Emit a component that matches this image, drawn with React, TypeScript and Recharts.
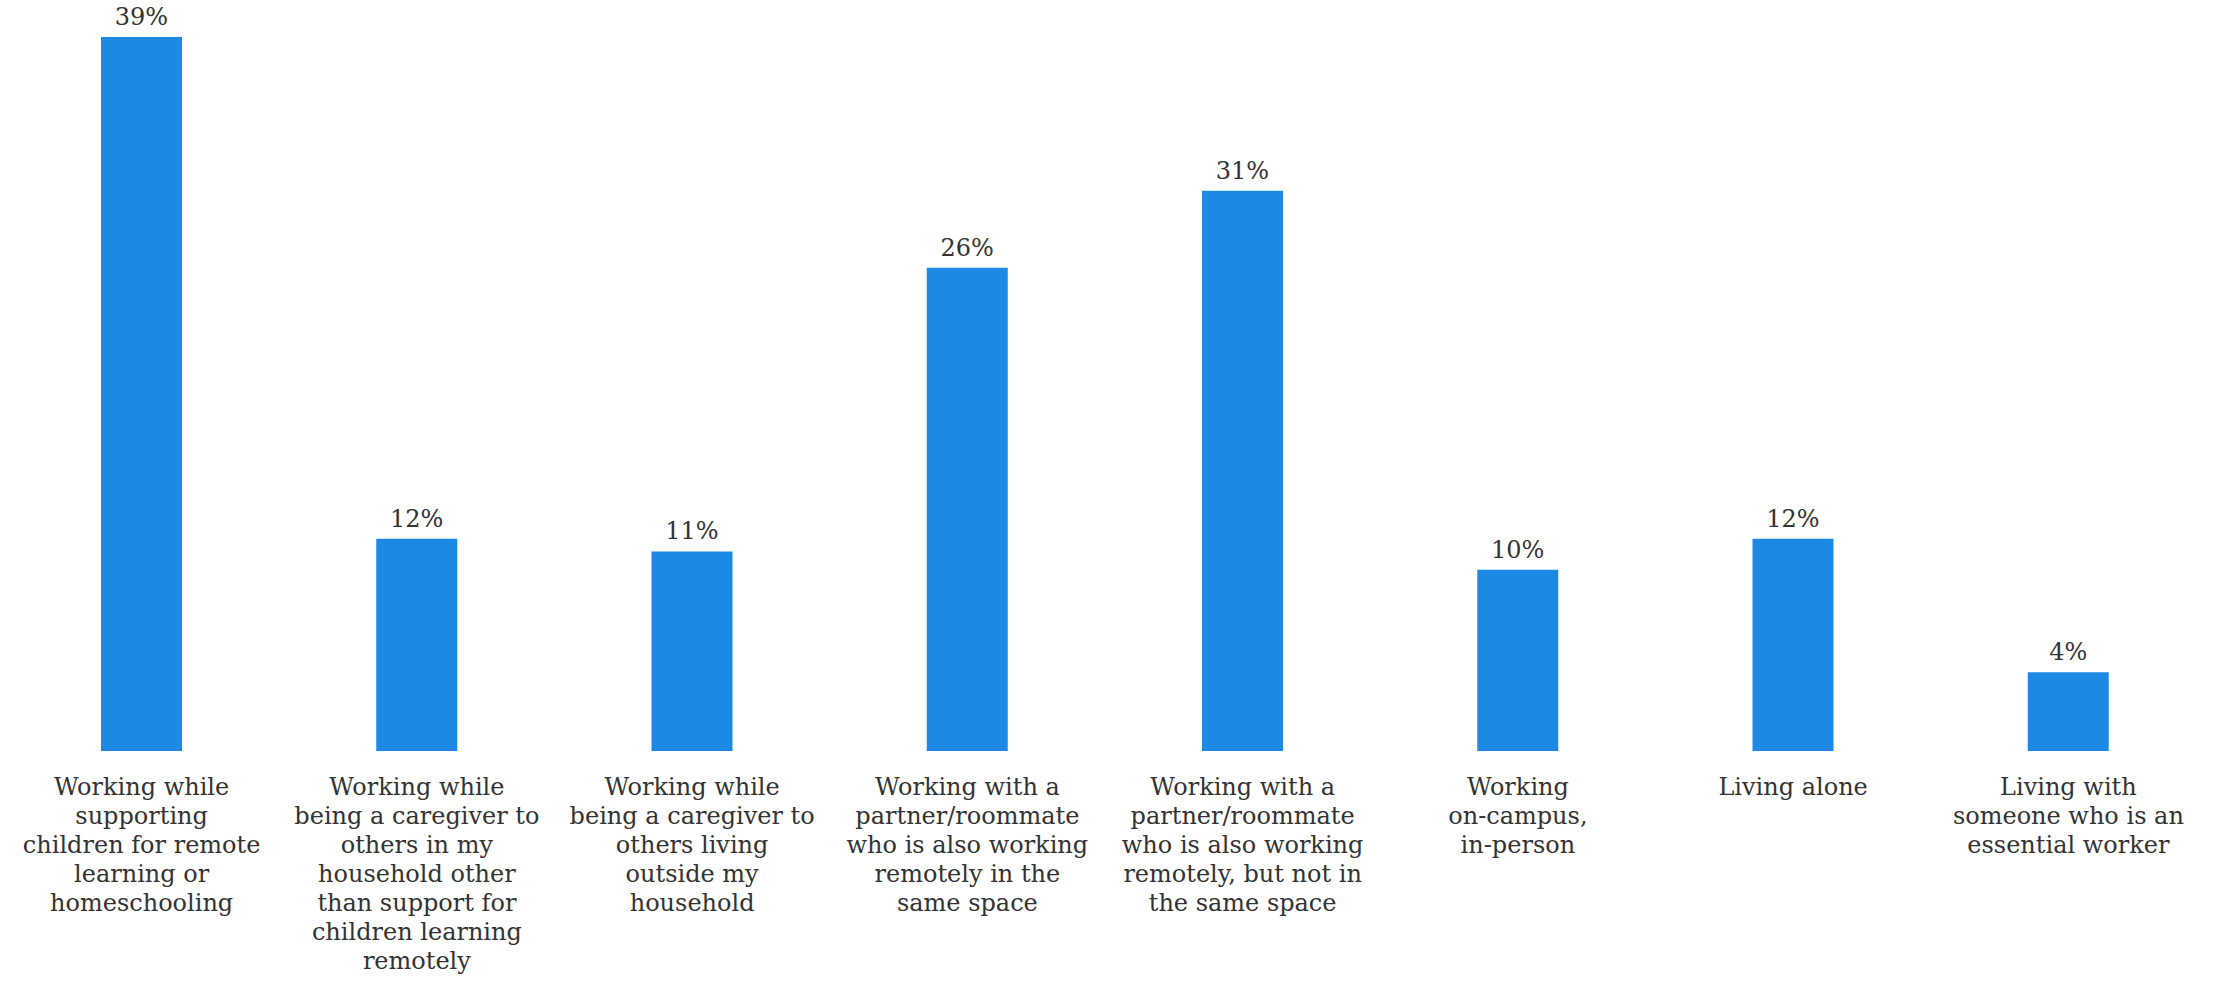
import { BarChart, Bar, XAxis, YAxis, LabelList } from "recharts";

const categories = [
    ["Working while", "supporting", "children for remote", "learning or", "homeschooling"],
    ["Working while", "being a caregiver to", "others in my", "household other", "than support for", "children learning", "remotely"],
    ["Working while", "being a caregiver to", "others living", "outside my", "household"],
    ["Working with a", "partner/roommate", "who is also working", "remotely in the", "same space"],
    ["Working with a", "partner/roommate", "who is also working", "remotely, but not in", "the same space"],
    ["Working", "on-campus,", "in-person"],
    ["Living alone"],
    ["Living with", "someone who is an", "essential worker"],
];

// shares in percent (labels show them rounded)
const shares = [39.0, 11.6, 10.9, 26.4, 30.6, 9.9, 11.6, 4.3];

const data = categories.map((lines, i) => ({
    name: lines.join(" "),
    share: shares[i],
}));

const FONT = "'DejaVu Serif', serif";
const TEXT = "#333333";

function WrappedTick(props: any) {
    const { x, y, payload, index } = props;
    const lines = categories[index] ?? [payload.value];
    return (
        <text
            x={x}
            y={y}
            textAnchor="middle"
            fill={TEXT}
            fontSize={24}
            style={{ fontFamily: FONT }}
        >
            {lines.map((line: string, i: number) => (
                <tspan key={i} x={x} dy={i === 0 ? 36 : 29}>
                    {line}
                </tspan>
            ))}
        </text>
    );
}

export default function App() {
    return (
        <div style={{ position: "absolute", left: 0, top: 0, background: "#fff" }}>
            <BarChart
                width={2221}
                height={982}
                data={data}
                margin={{ top: 37, right: 15, bottom: 0, left: 4 }}
            >
                <XAxis
                    dataKey="name"
                    axisLine={false}
                    tickLine={false}
                    height={231}
                    interval={0}
                    tick={<WrappedTick />}
                />
                <YAxis hide domain={[0, "dataMax"]} />
                <Bar dataKey="share" fill="#1E88E5" barSize={81} isAnimationActive={false}>
                    <LabelList
                        dataKey="share"
                        position="top"
                        offset={12}
                        formatter={(v: any) => `${Math.round(v)}%`}
                        fill={TEXT}
                        fontSize={24}
                        style={{ fontFamily: FONT }}
                    />
                </Bar>
            </BarChart>
        </div>
    );
}
